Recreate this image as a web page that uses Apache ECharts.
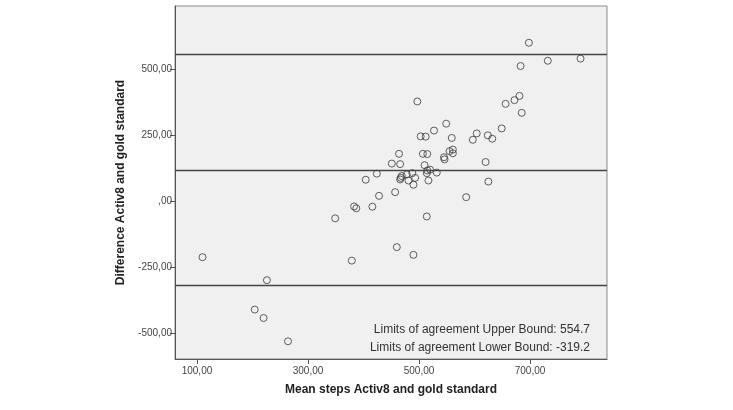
<!DOCTYPE html>
<html>
<head>
<meta charset="utf-8">
<script src="https://cdn.jsdelivr.net/npm/echarts@6/dist/echarts.min.js"></script>
<style>
  html, body { margin: 0; padding: 0; background: #fff; }
  #main { width: 733px; height: 410px; }
</style>
</head>
<body>
<div id="main"></div>
<script>
  // mean steps (x) and difference (y)
  var meanSteps = [110, 226, 204, 220, 264, 349, 383, 387, 416, 428, 457, 379, 460, 490, 585, 514, 625,
    732, 791, 698, 683, 497, 656, 672, 681, 685, 649, 549, 527, 503, 512, 559, 597, 604, 624, 632,
    507, 515, 464, 545, 546, 555, 561, 561, 510, 466, 451, 514, 517, 515, 520, 532, 424, 404, 469,
    467, 466, 478, 488, 493, 481, 490, 620]
  var diffSteps = [-212, -299, -410, -442, -530, -65, -20, -27, -21, 20, 34, -225, -174, -203, 15, -58, 74,
    531, 539, 599, 511, 377, 368, 382, 398, 334, 275, 293, 267, 245, 244, 239, 232, 256, 249, 236,
    179, 178, 179, 166, 158, 189, 195, 181, 136, 140, 142, 106, 78, 116, 119, 108, 104, 81, 95,
    88, 82, 101, 106, 88, 78, 62, 148]
  var xTicks = [100, 300, 500, 700]
  var yTicks = [-500, -250, 0, 250, 500]
  var upperBound = 554.7
  var lowerBound = -319.2
  var meanDiff = 117.75

  var points = meanSteps.map(function (x, i) { return [x, diffSteps[i]] })

  // SPSS style: comma as decimal mark, ",00" for zero
  function fmt (v) {
    var s = Math.abs(v) === 0 ? '' : String(Math.abs(v))
    return (v < 0 ? '-' : '') + s + ',00'
  }

  var myChart = echarts.init(document.getElementById('main'))
  var option = {
    animation: false,
    textStyle: { fontFamily: 'Liberation Sans, Arial, sans-serif' },
    grid: {
      left: 175, top: 6, right: 126, bottom: 51,
      show: true,
      backgroundColor: '#f0f0f0',
      borderColor: '#8a8a8a',
      borderWidth: 1
    },
    xAxis: {
      type: 'value',
      min: 60.4,
      max: 838.7,
      name: 'Mean steps Activ8 and gold standard',
      nameLocation: 'middle',
      nameGap: 25,
      nameTextStyle: { fontSize: 12, fontWeight: 'bold', color: '#222' },
      axisLine: { show: true, onZero: false, lineStyle: { color: '#555', width: 1 } },
      axisTick: { show: true, length: 5, customValues: xTicks, lineStyle: { color: '#555' } },
      axisLabel: { customValues: xTicks, formatter: fmt, fontSize: 10, color: '#444', margin: 7 },
      splitLine: { show: false }
    },
    yAxis: {
      type: 'value',
      min: -597,
      max: 738,
      name: 'Difference Activ8 and gold standard',
      nameLocation: 'middle',
      nameGap: 46,
      nameRotate: 90,
      nameTextStyle: { fontSize: 12, fontWeight: 'bold', color: '#222' },
      axisLine: { show: true, onZero: false, lineStyle: { color: '#555', width: 1 } },
      axisTick: { show: true, length: 5, customValues: yTicks, lineStyle: { color: '#555' } },
      axisLabel: { customValues: yTicks, formatter: fmt, fontSize: 10, color: '#444', margin: 3 },
      splitLine: { show: false }
    },
    graphic: [
      {
        type: 'text', right: 143, top: 324,
        style: { text: 'Limits of agreement Upper Bound: 554.7', fontSize: 12, fill: '#333',
          fontFamily: 'Liberation Sans, Arial, sans-serif' }
      },
      {
        type: 'text', right: 143, top: 342,
        style: { text: 'Limits of agreement Lower Bound: -319.2', fontSize: 12, fill: '#333',
          fontFamily: 'Liberation Sans, Arial, sans-serif' }
      }
    ],
    series: [
      {
        type: 'scatter',
        symbol: 'circle',
        symbolSize: 7,
        itemStyle: { color: 'transparent', borderColor: '#3a3a3a', borderWidth: 1 },
        data: points,
        markLine: {
          silent: true,
          symbol: 'none',
          label: { show: false },
          lineStyle: { type: 'solid', color: '#444', width: 1.3 },
          data: [{ yAxis: upperBound }, { yAxis: meanDiff }, { yAxis: lowerBound }]
        }
      }
    ]
  }
  myChart.setOption(option)
</script>
</body>
</html>
